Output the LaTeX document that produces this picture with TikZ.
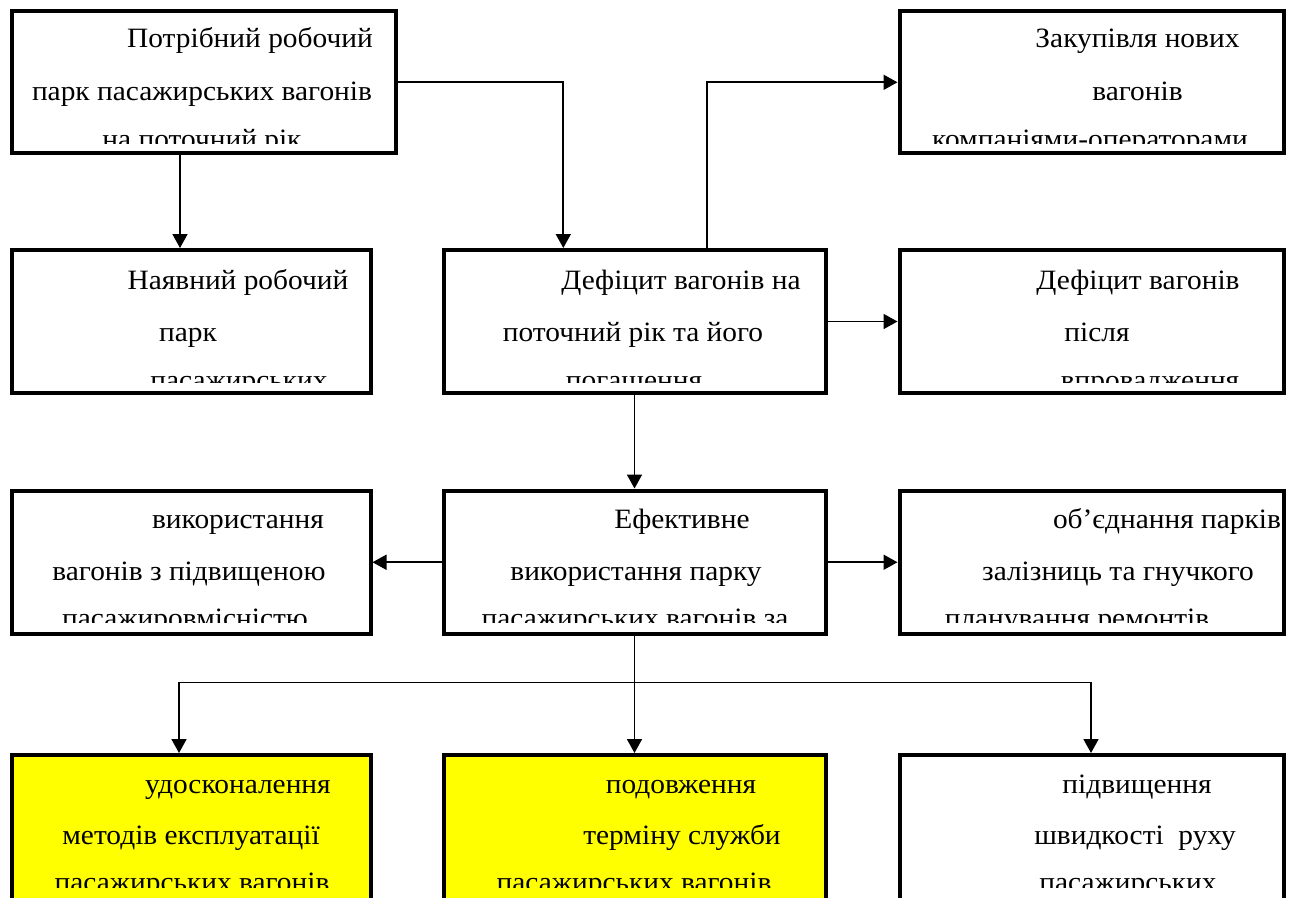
\documentclass[tikz,border=0pt]{standalone}
\usepackage{fontspec}
\setmainfont{Liberation Serif}[FakeStretch=1.05]
\usetikzlibrary{arrows.meta}
\definecolor{boxyellow}{RGB}{255,255,0}
\begin{document}
\begin{tikzpicture}[x=1pt,y=-1pt,
  box/.style={draw=black, line width=4pt, fill=white, rectangle, inner sep=0pt},
  ybox/.style={box, fill=boxyellow},
  conn/.style={line width=1.7pt, -{Triangle[length=14pt,width=15pt]}},
  txt/.style={anchor=base, inner sep=0pt, font=\fontsize{28}{30}\selectfont}]
\useasboundingbox (0,0) rectangle (1290,897);
\clip (0,0) rectangle (1290,897);
\fill[white] (0,0) rectangle (1290,897);

% boxes
\node[box, minimum width=384.5pt, minimum height=142.5pt] (b1) at (203.75,81.75) {};
\node[box, minimum width=384.5pt, minimum height=142pt] (b2) at (1091.75,82) {};
\node[box, minimum width=359pt, minimum height=143pt] (b3) at (191,321.5) {};
\node[box, minimum width=382pt, minimum height=143pt] (b4) at (635,321.5) {};
\node[box, minimum width=384.5pt, minimum height=143pt] (b5) at (1091.75,321.5) {};
\node[box, minimum width=359pt, minimum height=143.5pt] (b6) at (191,562.25) {};
\node[box, minimum width=382pt, minimum height=143.5pt] (b7) at (635,562.25) {};
\node[box, minimum width=384.5pt, minimum height=143.5pt] (b8) at (1091.75,562.25) {};
\node[ybox, minimum width=359pt, minimum height=165pt] (b9) at (191,837.5) {};
\node[ybox, minimum width=382pt, minimum height=165pt] (b10) at (635,837.5) {};
\node[box, minimum width=384.5pt, minimum height=165pt] (b11) at (1091.75,837.5) {};

% helper coordinates
\coordinate (xa) at (180,0);
\coordinate (xb) at (563.3,0);
\coordinate (xc) at (706.7,0);
\coordinate (xd) at (634.5,0);
\coordinate (xe) at (179,0);
\coordinate (xf) at (1091,0);
\coordinate (ya) at (0,82.3);
\coordinate (yb) at (0,682.5);

% connectors
\draw[conn] (b1.south -| xa) -- (b3.north -| xa);
\draw[conn] (b1.east |- ya) -- (xb |- ya) -- (b4.north -| xb);
\draw[conn] (b4.north -| xc) -- (xc |- ya) -- (b2.west |- ya);
\draw[conn] (b4.east) -- (b5.west);
\draw[conn] (b4.south -| xd) -- (b7.north -| xd);
\draw[conn] (b7.west) -- (b6.east);
\draw[conn] (b7.east) -- (b8.west);
\draw[conn] (b7.south -| xd) -- (b10.north -| xd);
\draw[conn] (xd |- yb) -| (b9.north -| xe);
\draw[conn] (xd |- yb) -| (b11.north -| xf);

% texts (clipped at the lower part of each box)
\begin{scope}
\clip (b1.north west) rectangle ([yshift=12pt]b1.south east);
\node[txt] (t1a) at (250,47) {Потрібний робочий};
\node[txt] (t1b) at (202,100.5) {парк пасажирських вагонів};
\node[txt] (t1c) at (202,148) {на поточний рік};
\end{scope}
\begin{scope}
\clip (b2.north west) rectangle ([yshift=12pt]b2.south east);
\node[txt] (t2a) at (1137.5,47) {Закупівля нових};
\node[txt] (t2b) at (1137.5,100.5) {вагонів};
\node[txt] (t2c) at (1090,148) {компаніями-операторами};
\end{scope}
\begin{scope}
\clip (b3.north west) rectangle ([yshift=13pt]b3.south east);
\node[txt] (t3a) at (238,289) {Наявний робочий};
\node[txt] (t3b) at (188,341.5) {парк};
\node[txt] (t3c) at (239,389) {пасажирських};
\end{scope}
\begin{scope}
\clip (b4.north west) rectangle ([yshift=13pt]b4.south east);
\node[txt] (t4a) at (681,289) {Дефіцит вагонів на};
\node[txt] (t4b) at (633,341.5) {поточний рік та його};
\node[txt] (t4c) at (634,389) {погашення};
\end{scope}
\begin{scope}
\clip (b5.north west) rectangle ([yshift=13pt]b5.south east);
\node[txt] (t5a) at (1138,289) {Дефіцит вагонів};
\node[txt] (t5b) at (1097,341.5) {після};
\node[txt] (t5c) at (1150,389) {впровадження};
\end{scope}
\begin{scope}
\clip (b6.north west) rectangle ([yshift=14pt]b6.south east);
\node[txt] (t6a) at (238,528) {використання};
\node[txt] (t6b) at (189,580) {вагонів з підвищеною};
\node[txt] (t6c) at (185,627) {пасажировмісністю};
\end{scope}
\begin{scope}
\clip (b7.north west) rectangle ([yshift=14pt]b7.south east);
\node[txt] (t7a) at (682,528) {Ефективне};
\node[txt] (t7b) at (636,580) {використання парку};
\node[txt] (t7c) at (635,627) {пасажирських вагонів за};
\end{scope}
\begin{scope}
\clip (b8.north west) rectangle ([yshift=14pt]b8.south east);
\node[txt] (t8a) at (1167,528) {об’єднання парків};
\node[txt] (t8b) at (1118,580) {залізниць та гнучкого};
\node[txt] (t8c) at (1077,627) {планування ремонтів};
\end{scope}
\begin{scope}
\clip (b9.north west) rectangle (b9.east |- 0,887);
\node[txt] (t9a) at (238,793) {удосконалення};
\node[txt] (t9b) at (191,844) {методів експлуатації};
\node[txt] (t9c) at (192,891) {пасажирських вагонів};
\end{scope}
\begin{scope}
\clip (b10.north west) rectangle (b10.east |- 0,887);
\node[txt] (t10a) at (681,793) {подовження};
\node[txt] (t10b) at (682,844) {терміну служби};
\node[txt] (t10c) at (634,891) {пасажирських вагонів};
\end{scope}
\begin{scope}
\clip (b11.north west) rectangle (b11.east |- 0,887);
\node[txt] (t11a) at (1137,793) {підвищення};
\node[txt] (t11b) at (1135,844) {швидкості\ \ руху};
\node[txt] (t11c) at (1128,891) {пасажирських};
\end{scope}
\end{tikzpicture}
\end{document}
